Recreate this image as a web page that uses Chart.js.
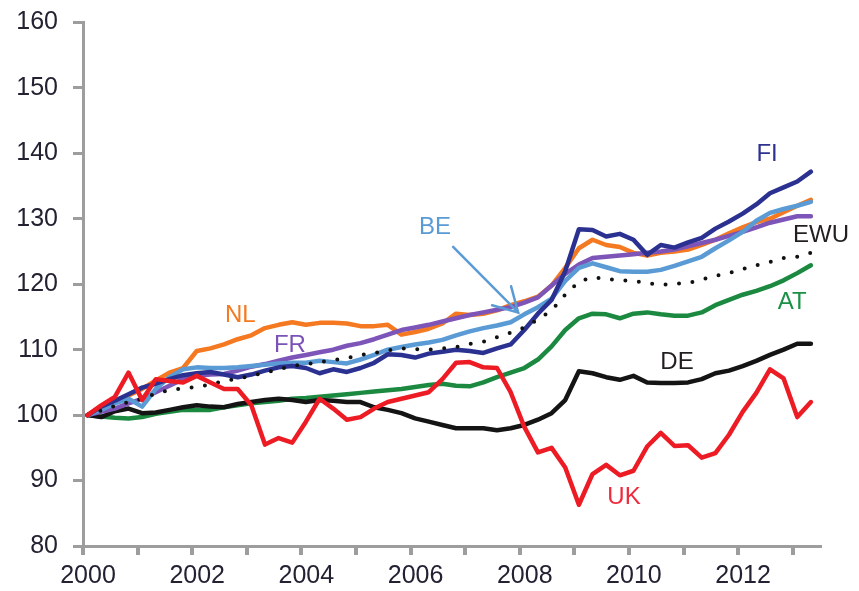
<!DOCTYPE html>
<html>
<head>
<meta charset="utf-8">
<script src="https://cdn.jsdelivr.net/npm/chart.js@4.4.0/dist/chart.umd.min.js"></script>
<style>
  html, body { margin: 0; padding: 0; background: #ffffff; }
  #wrap { width: 859px; height: 591px; position: relative; }
</style>
</head>
<body>
<div id="wrap"><canvas id="c" width="859" height="591"></canvas></div>
<script>
// Quarterly observations, 2000Q1 .. 2013Q2 (index, 2000Q1 = 100)
const quarters = [];
for (let y = 2000; y <= 2013; y++) {
  for (let q = 1; q <= 4; q++) {
    if (y === 2013 && q > 2) break;
    quarters.push(y + 'Q' + q);
  }
}

const UK  = [100,101.5,102.8,106.5,102.3,105.5,105.2,105.0,106.0,105.0,104.0,104.0,101.5,95.5,96.5,95.8,
             99.0,102.5,101.0,99.3,99.7,101.0,102.0,102.5,103.0,103.5,105.5,108.0,108.1,107.3,107.2,103.5,
             98.2,94.3,95.0,92.0,86.3,91.0,92.4,90.8,91.5,95.2,97.3,95.3,95.4,93.5,94.2,97.0,
             100.5,103.4,107.0,105.6,99.7,102.0];
const EWU = [100,100.7,101.4,102.0,102.5,103.3,103.8,104.1,104.3,104.7,105.2,105.6,106.0,106.5,107.0,107.5,
             107.8,108.1,108.4,108.7,109.2,109.5,109.9,110.2,110.1,110.0,110.2,110.4,110.9,111.2,111.9,112.6,
             113.4,114.6,116.0,118.4,120.4,121.1,120.8,120.6,120.5,120.2,119.9,120.1,120.2,120.7,121.3,121.7,
             122.3,122.9,123.4,124.0,124.2,124.8];
const FI  = [100,101.3,102.2,103.2,104.2,104.8,105.5,106.1,106.4,106.6,106.2,105.8,106.2,106.8,107.3,107.5,
             107.2,106.4,107.0,106.6,107.2,108.0,109.3,109.2,108.8,109.4,109.7,110.0,109.8,109.5,110.2,110.8,
             113.0,115.5,117.6,122.0,128.4,128.3,127.3,127.7,126.8,124.5,126.0,125.6,126.4,127.1,128.5,129.6,
             130.8,132.2,133.9,134.8,135.7,137.2];
const BE  = [100,100.8,101.8,102.5,101.3,104.0,105.8,107.0,107.3,107.2,107.2,107.3,107.5,107.7,107.9,108.0,
             108.0,108.3,108.1,107.9,108.5,109.2,110.0,110.4,110.8,111.1,111.5,112.2,112.8,113.3,113.7,114.2,
             115.4,116.5,117.8,120.5,122.5,123.2,122.6,122.0,121.9,121.9,122.2,122.8,123.5,124.2,125.5,126.7,
             128.0,129.7,130.9,131.5,132.0,132.6];
const FR  = [100,100.5,101.0,101.8,102.5,103.5,104.5,105.5,106.0,106.2,106.3,106.8,107.4,107.8,108.3,108.8,
             109.2,109.6,110.0,110.6,111.0,111.6,112.3,113.0,113.4,113.8,114.3,114.8,115.3,115.7,116.1,116.5,
             117.2,118.0,119.8,121.6,123.0,124.0,124.2,124.4,124.6,124.8,125.0,125.3,125.8,126.3,126.8,127.4,
             128.0,128.7,129.4,129.9,130.4,130.4];
const NL  = [100,101.0,102.0,103.0,104.0,105.3,106.5,107.2,109.8,110.2,110.8,111.6,112.2,113.3,113.8,114.2,
             113.8,114.1,114.1,114.0,113.6,113.6,113.8,112.3,112.7,113.2,114.0,115.5,115.3,115.5,116.0,116.8,
             117.4,118.1,119.8,122.5,125.5,126.8,126.0,125.7,124.8,124.4,124.8,125.0,125.3,126.0,126.8,127.8,
             128.7,129.5,130.0,131.0,132.0,132.9];
const DE  = [100,99.7,100.6,101.0,100.3,100.4,100.8,101.2,101.5,101.3,101.2,101.7,102.0,102.3,102.5,102.3,
             102.0,102.3,102.2,102.0,102.0,101.2,100.8,100.3,99.5,99.0,98.5,98.0,98.0,98.0,97.7,98.0,
             98.5,99.3,100.3,102.3,106.7,106.4,105.8,105.4,106.0,105.0,104.9,104.9,105.0,105.5,106.4,106.8,
             107.5,108.3,109.2,110.0,110.9,110.9];
const AT  = [100,99.8,99.6,99.5,99.7,100.2,100.5,100.8,100.8,100.8,101.2,101.5,101.8,102.0,102.2,102.5,
             102.6,102.8,103.0,103.2,103.4,103.6,103.8,104.0,104.3,104.6,104.8,104.5,104.4,105.0,105.8,106.5,
             107.2,108.5,110.5,113.0,114.8,115.5,115.4,114.8,115.5,115.7,115.4,115.2,115.2,115.7,116.8,117.6,
             118.4,119.0,119.7,120.6,121.7,122.9];

const yTicks = [80, 90, 100, 110, 120, 130, 140, 150, 160];
const xLabelYears = [2000, 2002, 2004, 2006, 2008, 2010, 2012];

// Series labels placed in data units: [text, year, value, colour]
const seriesLabels = [
  ['NL', 2002.88, 115.3, '#f47a20'],
  ['FR', 2003.79, 110.7, '#7b52b5'],
  ['BE', 2006.45, 128.7, '#5b9bd5'],
  ['FI', 2012.53, 139.9, '#2e3192'],
  ['EWU', 2013.52, 127.4, '#231f20'],
  ['AT', 2012.99, 117.3, '#1a9146'],
  ['DE', 2010.88, 108.1, '#231f20'],
  ['UK', 2009.91, 87.5, '#ee2a3c']
];
// BE arrow: from (year, value) to (year, value)
const beArrow = [[2006.78, 125.7], [2007.97, 115.7]];

function qx(label) {
  const y = parseInt(label.slice(0, 4), 10);
  const q = parseInt(label.slice(5), 10);
  return y + (q - 1) / 4 + 1 / 12;
}
function pts(arr) { return arr.map((v, i) => ({ x: qx(quarters[i]), y: v })); }

const FONT = 'Arial, "Liberation Sans", sans-serif';

const ds = (label, data, color, extra) => Object.assign({
  label, data: pts(data), borderColor: color, backgroundColor: color,
  borderWidth: 4.5, pointRadius: 0, tension: 0, fill: false,
  borderJoinStyle: 'round', borderCapStyle: 'round'
}, extra || {});

const annot = {
  id: 'annot',
  afterDatasetsDraw(chart) {
    const { ctx, scales: { x, y } } = chart;
    ctx.save();
    ctx.font = '24px ' + FONT;
    ctx.textAlign = 'center';
    ctx.textBaseline = 'middle';
    seriesLabels.forEach(([t, xv, yv, c]) => {
      ctx.fillStyle = c;
      ctx.fillText(t, x.getPixelForValue(xv), y.getPixelForValue(yv));
    });
    // arrow
    const x0 = x.getPixelForValue(beArrow[0][0]), y0 = y.getPixelForValue(beArrow[0][1]);
    const x1 = x.getPixelForValue(beArrow[1][0]), y1 = y.getPixelForValue(beArrow[1][1]);
    ctx.strokeStyle = '#5b9bd5';
    ctx.lineWidth = 2.5;
    ctx.lineCap = 'round';
    ctx.beginPath(); ctx.moveTo(x0, y0); ctx.lineTo(x1, y1); ctx.stroke();
    const a = Math.atan2(y0 - y1, x0 - x1);
    const L = 27, spread = 0.52;
    ctx.beginPath();
    ctx.moveTo(x1 + L * Math.cos(a + spread), y1 + L * Math.sin(a + spread));
    ctx.lineTo(x1, y1);
    ctx.lineTo(x1 + L * Math.cos(a - spread), y1 + L * Math.sin(a - spread));
    ctx.stroke();
    ctx.restore();
  }
};

new Chart(document.getElementById('c'), {
  type: 'line',
  data: {
    datasets: [
      ds('UK', UK, '#ed1c24'),
      ds('EWU', EWU, '#111111', { borderWidth: 4, borderDash: [0, 13.5], borderCapStyle: 'round' }),
      ds('FI', FI, '#2b3190'),
      ds('BE', BE, '#5b9bd5'),
      ds('FR', FR, '#7d55b8'),
      ds('NL', NL, '#f47920'),
      ds('DE', DE, '#141414'),
      ds('AT', AT, '#1b8a40')
    ]
  },
  options: {
    responsive: false,
    animation: false,
    events: [],
    layout: { padding: { top: 22.5, right: 39, left: 0, bottom: 0 } },
    plugins: { legend: { display: false }, tooltip: { enabled: false } },
    scales: {
      x: {
        type: 'linear',
        min: 2000, max: 2013.5,
        afterFit(s) { s.height = 45; s.paddingLeft = 0; s.paddingRight = 0; },
        afterBuildTicks(s) { s.ticks = s.ticks.filter(t => Number.isInteger(t.value)); },
        ticks: {
          stepSize: 1, includeBounds: false, autoSkip: false, maxRotation: 0,
          labelOffset: 5, padding: 6,
          color: '#222233',
          font: { family: FONT, size: 25 },
          callback: v => xLabelYears.includes(v) ? String(v) : ''
        },
        grid: { drawOnChartArea: false, drawTicks: true, tickLength: 9, tickColor: '#9d9d9d', lineWidth: 4 },
        border: { display: true, color: '#9d9d9d', width: 3 }
      },
      y: {
        min: 80, max: 160,
        afterFit(s) { s.width = 83; s.paddingTop = 0; s.paddingBottom = 0; },
        afterBuildTicks(s) { s.ticks = yTicks.map(v => ({ value: v })); },
        ticks: {
          stepSize: 10, padding: 15,
          color: '#222233',
          font: { family: FONT, size: 25 }
        },
        grid: { drawOnChartArea: false, drawTicks: true, tickLength: 10, tickColor: '#9d9d9d', lineWidth: 3 },
        border: { display: true, color: '#9d9d9d', width: 3 }
      }
    }
  },
  plugins: [annot]
});
</script>
</body>
</html>
